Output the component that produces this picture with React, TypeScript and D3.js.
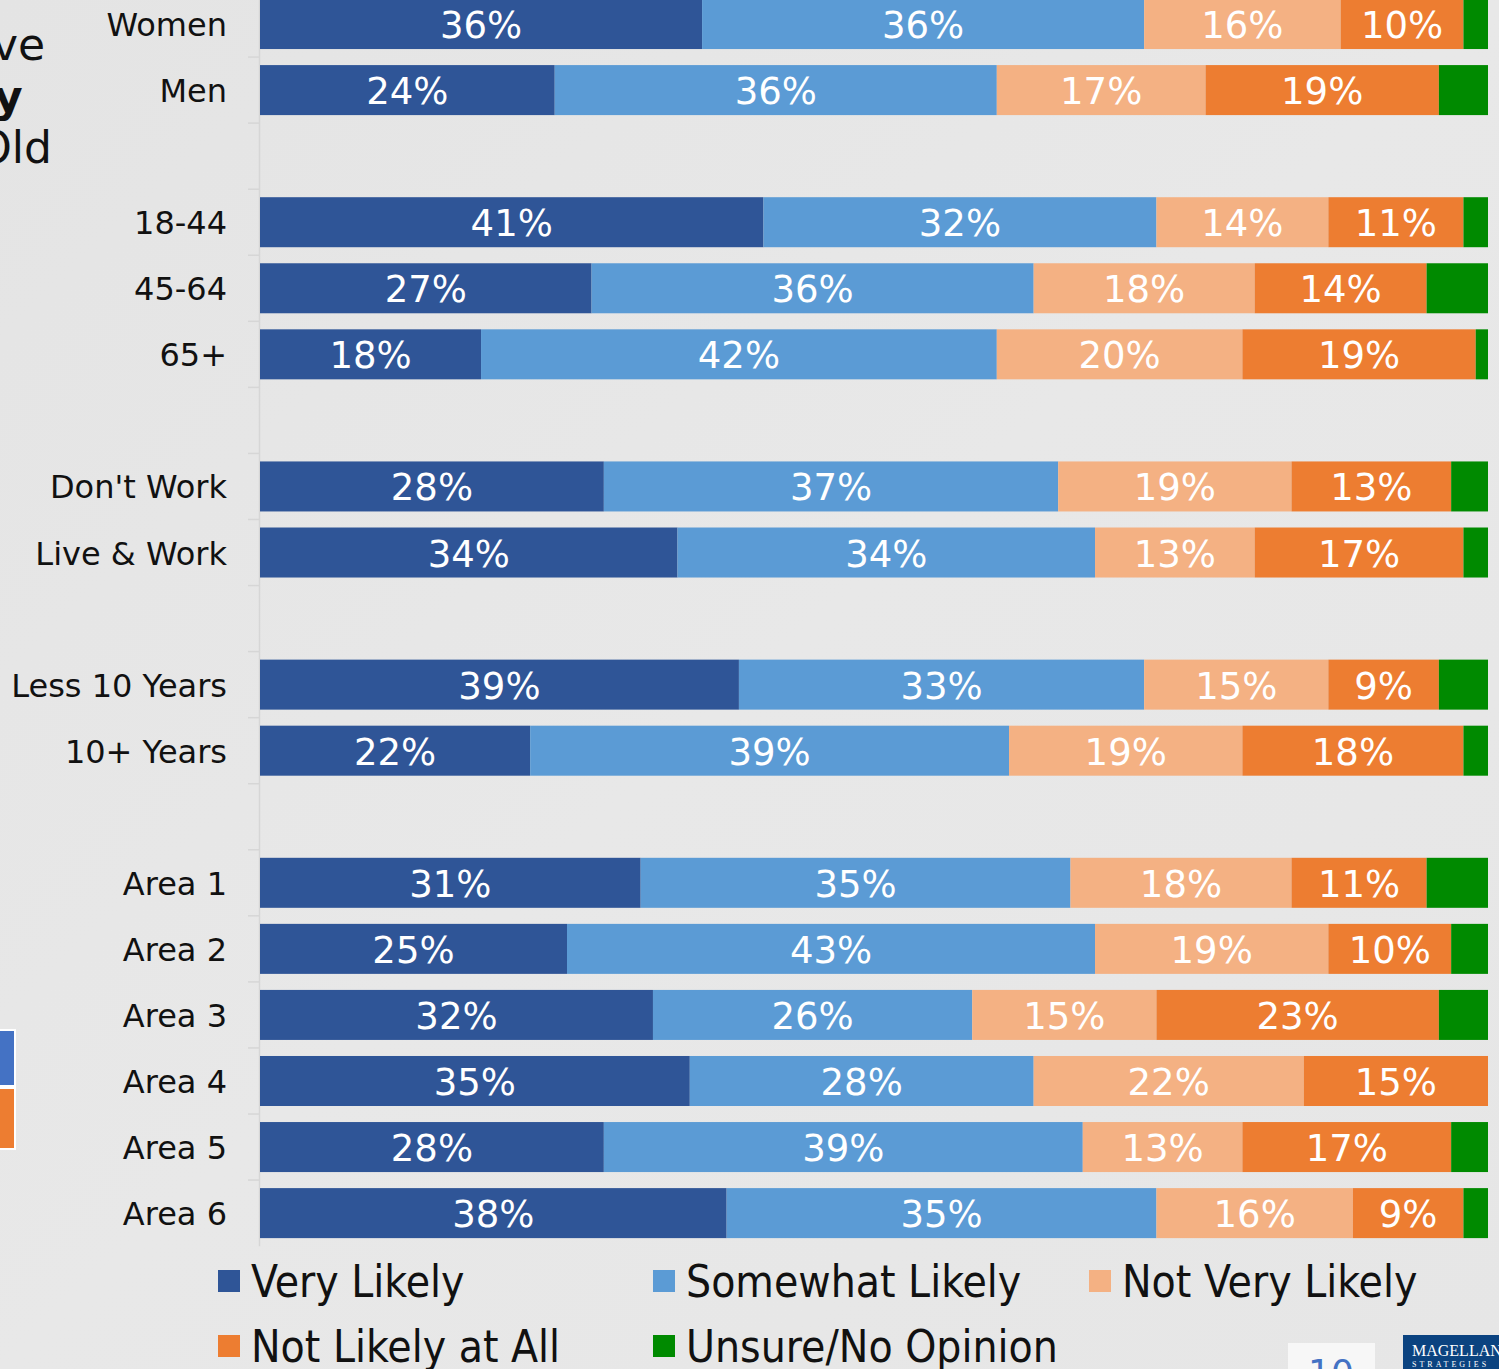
import * as d3 from "d3";

// rows ("gap" keys are the empty spacer rows between groups)
const categories = [
  "Women", "Men", "gap1",
  "18-44", "45-64", "65+", "gap2",
  "Don't Work", "Live & Work", "gap3",
  "Less 10 Years", "10+ Years", "gap4",
  "Area 1", "Area 2", "Area 3", "Area 4", "Area 5", "Area 6",
];

const seriesNames = ["Very Likely", "Somewhat Likely", "Not Very Likely", "Not Likely at All", "Unsure/No Opinion"];
const seriesColors = ["#2f5597", "#5b9bd5", "#f4b183", "#ed7d31", "#008a00"];

const veryLikely = [36, 24, null, 41, 27, 18, null, 28, 34, null, 39, 22, null, 31, 25, 32, 35, 28, 38];
const somewhatLikely = [36, 36, null, 32, 36, 42, null, 37, 34, null, 33, 39, null, 35, 43, 26, 28, 39, 35];
const notVeryLikely = [16, 17, null, 14, 18, 20, null, 19, 13, null, 15, 19, null, 18, 19, 15, 22, 13, 16];
const notLikelyAtAll = [10, 19, null, 11, 14, 19, null, 13, 17, null, 9, 18, null, 11, 10, 23, 15, 17, 9];
const unsure = [2, 4, null, 2, 5, 1, null, 3, 2, null, 4, 2, null, 5, 3, 4, 0, 3, 2];

const seriesValues = [veryLikely, somewhatLikely, notVeryLikely, notLikelyAtAll, unsure];

const W = 1499;
const H = 1369;
const labelFont = "'DejaVu Sans', sans-serif";

export default function App() {
  const x = d3.scaleLinear().domain([0, 100]).range([260, 1488]);
  const y = d3.scaleBand<string>()
    .domain(categories)
    .range([-9, -9 + categories.length * 66.06])
    .paddingInner(0.243)
    .paddingOuter(0.1215);

  const rows = categories.map((c, i) => {
    const obj: any = { key: c };
    seriesNames.forEach((s, j) => (obj[s] = seriesValues[j][i] ?? 0));
    return obj;
  });
  const stack = d3.stack<any>().keys(seriesNames)(rows);
  const color = d3.scaleOrdinal<string, string>().domain(seriesNames).range(seriesColors);

  const [r0, r1] = y.range();
  const ticks = d3.range(1, categories.length).map((i) => r0 + i * y.step());

  const legendPos = [
    [218, 1281], [653, 1281], [1089, 1281],
    [218, 1346], [653, 1346],
  ];

  return (
    <svg width={W} height={H} style={{ position: "absolute", left: 0, top: 0, display: "block" }}>
      <defs>
        <linearGradient id="bg" x1="0" y1="0" x2="1" y2="1">
          <stop offset="0" stopColor="#e4e4e4" />
          <stop offset="0.5" stopColor="#e8e8e8" />
          <stop offset="1" stopColor="#e6e6e6" />
        </linearGradient>
      </defs>
      <rect width={W} height={H} fill="url(#bg)" />

      {/* slide title, cut off by the left edge */}
      <g fontFamily={labelFont} fontSize={44} fill="#111">
        <text x={-8} y={60}>ve</text>
        <text x={-6} y={112} fontWeight="bold">y</text>
        <text x={52} y={163} textAnchor="end">Old</text>
      </g>

      {/* leftover boxes from the slide */}
      <rect x={-4} y={1030} width={19} height={56} fill="#4472c4" stroke="#fff" strokeWidth={2} />
      <rect x={-4} y={1088} width={19} height={61} fill="#ed7d31" stroke="#fff" strokeWidth={2} />

      {/* axis */}
      <line x1={259.5} x2={259.5} y1={r0} y2={r1} stroke="#d6d6d6" strokeWidth={1.5} />
      {ticks.map((t) => (
        <line key={t} x1={248} x2={259} y1={t} y2={t} stroke="#d6d6d6" strokeWidth={1.5} />
      ))}

      {stack.map((s) => (
        <g key={s.key} fill={color(s.key)}>
          {s.map((d, i) => {
            const cat = categories[i];
            if (cat.startsWith("gap")) return null;
            const w = x(d[1]) - x(d[0]);
            if (w <= 0) return null;
            return <rect key={cat} x={x(d[0])} y={y(cat)} width={w} height={y.bandwidth()} />;
          })}
        </g>
      ))}

      {stack.map((s, si) =>
        si === 4 ? null : (
          <g key={"l" + s.key} fill="#fff" fontFamily={labelFont} fontSize={37} textAnchor="middle">
            {s.map((d, i) => {
              const cat = categories[i];
              if (cat.startsWith("gap")) return null;
              const v = d[1] - d[0];
              return (
                <text key={cat} x={(x(d[0]) + x(d[1])) / 2} y={(y(cat) as number) + y.bandwidth() / 2 + 14}>
                  {v}%
                </text>
              );
            })}
          </g>
        )
      )}

      <g fontFamily={labelFont} fontSize={32} fill="#111" textAnchor="end">
        {categories.map((c) =>
          c.startsWith("gap") ? null : (
            <text key={c} x={227} y={(y(c) as number) + y.bandwidth() / 2 + 12}>
              {c}
            </text>
          )
        )}
      </g>

      <g fontFamily="'DejaVu Sans Condensed', 'DejaVu Sans', sans-serif" fontSize={44} fill="#111">
        {seriesNames.map((s, i) => (
          <g key={s} transform={`translate(${legendPos[i][0]},${legendPos[i][1]})`}>
            <rect x={0} y={-11} width={22} height={22} fill={color(s)} />
            <text x={33} y={16}>{s}</text>
          </g>
        ))}
      </g>

      {/* page number + logo, cut off at the bottom */}
      <rect x={1288} y={1343} width={87} height={30} fill="#f7f7f7" />
      <text x={1331} y={1385} textAnchor="middle" fontFamily={labelFont} fontSize={36} fill="#4472c4">10</text>
      <rect x={1403} y={1335} width={100} height={40} fill="#0b4380" />
      <text x={1412} y={1356} fontFamily="'Liberation Serif', serif" fontSize={16} fill="#fff">MAGELLAN</text>
      <text x={1412} y={1367} fontFamily="'Liberation Serif', serif" fontSize={8} fill="#fff" letterSpacing={3}>STRATEGIES</text>
    </svg>
  );
}
